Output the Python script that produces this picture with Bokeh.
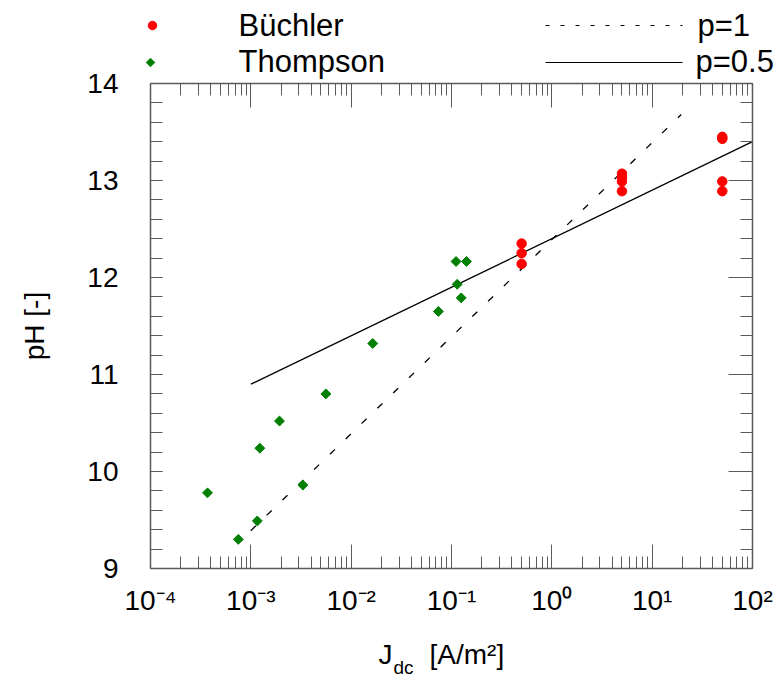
from bokeh.plotting import figure
from bokeh.models import (LogAxis, LinearAxis, FixedTicker, SingleIntervalTicker, Range1d,
                          LinearScale)
from bokeh.core.properties import value
from bokeh.embed import file_html
from bokeh.resources import INLINE

# ---------------- data ----------------
buchler_j = [0.5, 0.5, 0.5, 5, 5, 5, 5, 50, 50, 50, 50]
buchler_ph = [12.35, 12.25, 12.14, 13.07, 13.03, 12.99, 12.89, 13.45, 13.43, 12.99, 12.89]

thompson_j = [3.7e-4, 7.5e-4, 1.16e-3, 1.23e-3, 1.93e-3, 3.3e-3, 5.6e-3, 1.64e-2,
              7.4e-2, 0.111, 0.141, 0.114, 0.125]
thompson_ph = [9.78, 9.30, 9.49, 10.24, 10.52, 9.86, 10.80, 11.32,
               11.65, 12.165, 12.165, 11.93, 11.79]

p1_j = [1e-3, 19.5]
p1_ph = [9.39, 13.68]
p05_j = [1e-3, 1e2]
p05_ph = [10.90, 13.40]

x_ticks = [1e-4, 1e-3, 1e-2, 1e-1, 1e0, 1e1, 1e2]
x_tick_labels = ["10⁻⁴", "10⁻³", "10⁻²", "10⁻¹", "10⁰", "10¹", "10²"]
x_minor = [m * t for t in x_ticks[:-1] for m in range(2, 10)]
y_lo, y_hi = 9, 14

FONT = "Liberation Sans"
AX = "#5a5a5a"

# ---------------- layout (pixels) ----------------
W, H = 784, 679
FL, FR, FT, FB = 150, 752, 83, 568          # plot box in page pixels
dec_px = (FR - FL) / 6.0
unit_px = (FB - FT) / float(y_hi - y_lo)
x_range = Range1d(10 ** (-4 - FL / dec_px), 10 ** (2 + (W - FR) / dec_px))
y_range = Range1d(y_lo - (H - FB) / unit_px, y_hi + FT / unit_px)

p = figure(width=W, height=H, x_axis_type="log", x_range=x_range, y_range=y_range,
           output_backend="svg", toolbar_location=None, min_border=0,
           outline_line_color=None)
p.grid.visible = False
p.extra_x_ranges = {"px": Range1d(0, W)}
p.extra_y_ranges = {"px": Range1d(H, 0)}
p.extra_x_scales = {"px": LinearScale()}
p.extra_y_scales = {"px": LinearScale()}

xt = FixedTicker(ticks=x_ticks, minor_ticks=x_minor)
yt = SingleIntervalTicker(interval=1, num_minor_ticks=5)

common = dict(axis_line_color=AX, axis_line_width=1.5,
              major_tick_line_color=AX, minor_tick_line_color=AX,
              major_tick_out=0, minor_tick_out=0)

xa = p.xaxis[0]
xa.ticker = xt
xa.fixed_location = y_lo
xa.bounds = (x_ticks[0], x_ticks[-1])
xa.major_label_overrides = {t: l for t, l in zip(x_ticks, x_tick_labels)}
xa.major_tick_in = 24
xa.minor_tick_in = 12
xa.major_label_standoff = 16
xa.major_label_text_font = FONT
xa.major_label_text_font_size = "28px"
xa.major_label_text_color = "black"
for k, v in common.items():
    setattr(xa, k, v)

ya = p.yaxis[0]
ya.ticker = yt
ya.fixed_location = x_ticks[0]
ya.bounds = (y_lo, y_hi)
ya.major_tick_in = 12
ya.minor_tick_in = 12
ya.major_label_standoff = 32
ya.major_label_text_font = FONT
ya.major_label_text_font_size = "28px"
ya.major_label_text_color = "black"
ya.axis_label = "pH [-]"
ya.axis_label_text_font = FONT
ya.axis_label_text_font_size = "28px"
ya.axis_label_text_font_style = "normal"
ya.axis_label_text_color = "black"
ya.axis_label_standoff = 34
for k, v in common.items():
    setattr(ya, k, v)

top = LogAxis(ticker=xt, fixed_location=y_hi, bounds=(x_ticks[0], x_ticks[-1]),
              major_tick_in=24, minor_tick_in=12,
              major_label_text_alpha=0, major_label_text_font_size="1px", major_label_standoff=0,
              **common)
p.add_layout(top, "above")
right = LinearAxis(ticker=yt, fixed_location=x_ticks[-1], bounds=(y_lo, y_hi),
                   major_tick_in=24, minor_tick_in=12,
                   major_label_text_alpha=0, major_label_text_font_size="1px", major_label_standoff=0,
                   **common)
p.add_layout(right, "right")

# ---------------- data marks ----------------
p.line(p1_j, p1_ph, color="black", line_width=1.3, line_dash="7 15")
p.line(p05_j, p05_ph, color="black", line_width=1.3)
p.scatter(thompson_j, thompson_ph, marker="square", angle=0.785398, size=7, color="#008000")
p.scatter(buchler_j, buchler_ph, marker="circle", size=9.5, color="red")

# ---------------- legend (pixel coordinates) ----------------
px = dict(x_range_name="px", y_range_name="px")
p.scatter([152], [25], marker="circle", size=8.5, color="red", **px)
p.scatter([150], [62], marker="square", angle=0.785398, size=6, color="#008000", **px)
p.line([545, 682], [25, 25], color="black", line_width=1, line_dash="4 11", **px)
p.line([545, 682], [62, 62], color="black", line_width=1.2, **px)
for tx, ty, tt in [(238, 25, "Büchler"), (238, 61, "Thompson"), (697, 25, "p=1"), (695, 61, "p=0.5")]:
    p.text([tx], [ty], text=[tt], text_font=value(FONT), text_font_size="31px",
           text_baseline="middle", text_align="left", text_color="black", **px)

# ---------------- x axis title  J_dc [A/m²] ----------------
for tx, ty, tt, fs in [(378, 654, "J", "28px"), (393, 667, "dc", "19px"), (429, 654, "[A/m²]", "28px")]:
    p.text([tx], [ty], text=[tt], text_font=value(FONT), text_font_size=fs,
           text_baseline="middle", text_align="left", text_color="black", **px)

open("out.html", "w").write(file_html(p, INLINE))
